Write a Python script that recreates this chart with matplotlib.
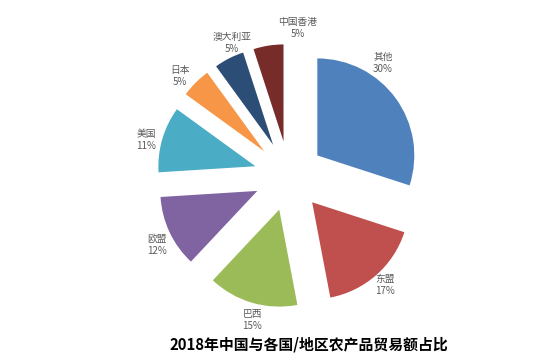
import matplotlib
matplotlib.use("Agg")
import matplotlib.pyplot as plt

plt.rcParams['font.family'] = ['Noto Sans CJK SC', 'DejaVu Sans']

# data (clockwise from 12 o'clock)
regions = ['其他', '东盟', '巴西', '欧盟', '美国', '日本', '澳大利亚', '中国香港']
shares = [30, 17, 15, 12, 11, 5, 5, 5]
colors = ['#4F81BD', '#C0504D', '#9BBB59', '#8064A2', '#4BACC6', '#F79646', '#2C4D75', '#772C2A']

# label centres in data units (pie centre at 0, 0)
label_pos = [(0.94, 1.13), (0.96, -1.09), (-0.37, -1.44), (-1.32, -0.69),
             (-1.43, 0.36), (-1.09, 1.00), (-0.57, 1.33), (0.09, 1.48)]

fig = plt.figure(figsize=(5.54, 3.62), dpi=100)
ax = fig.add_axes([0, 0, 1, 1])

ax.pie(shares, colors=colors, startangle=90, counterclock=False,
       explode=[0.35] * len(shares), radius=0.97)

for name, val, (x, y) in zip(regions, shares, label_pos):
    ax.text(x, y, f'{name}\n{val}%', ha='center', va='center',
            fontsize=7, color='#595959', linespacing=1.25)

ax.set_xlim(-2.89, 2.65)
ax.set_ylim(-1.86, 1.76)
ax.set_aspect('equal')
ax.axis('off')

fig.text(309 / 554, 1 - 345 / 362, '2018年中国与各国/地区农产品贸易额占比',
         ha='center', va='center', fontsize=10.7, fontweight='bold', color='black')

fig.savefig('out.png', dpi=100)
